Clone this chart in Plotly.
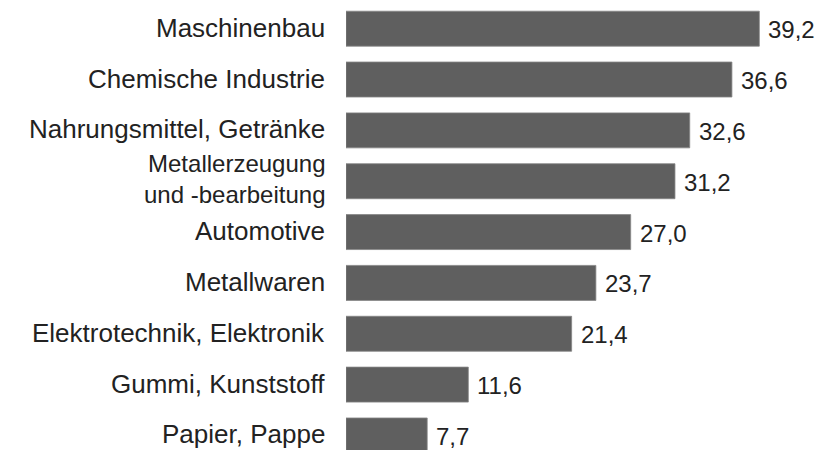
import plotly.graph_objects as go

# Branches and their values, top to bottom
branches = [
    "Maschinenbau",
    "Chemische Industrie",
    "Nahrungsmittel, Getränke",
    "Metallerzeugung<br>und -bearbeitung",
    "Automotive",
    "Metallwaren",
    "Elektrotechnik, Elektronik",
    "Gummi, Kunststoff",
    "Papier, Pappe",
]
values = [39.2, 36.6, 32.6, 31.2, 27.0, 23.7, 21.4, 11.6, 7.7]

BAR_COLOR = "#5f5f5f"
TEXT_COLOR = "#222222"
FONT = "Liberation Sans, Arial, sans-serif"

positions = list(range(len(branches)))

fig = go.Figure(
    go.Bar(
        x=values,
        y=positions,
        orientation="h",
        marker=dict(color=BAR_COLOR, line=dict(color="#858585", width=0.8)),
        hoverinfo="skip",
    )
)

annotations = []
# Category labels to the left of the bars; wrapped labels use a slightly
# smaller size so both lines stay within their row
for pos, name in zip(positions, branches):
    wrapped = "<br>" in name
    annotations.append(dict(
        x=0, y=pos, xref="x", yref="y",
        text=name, showarrow=False,
        xanchor="right", yanchor="middle", align="right",
        xshift=-19, yshift=2 if wrapped else 1,
        font=dict(family=FONT, size=24 if wrapped else 26, color=TEXT_COLOR),
    ))

# Value labels just past the end of each bar
for pos, v in zip(positions, values):
    annotations.append(dict(
        x=v, y=pos, xref="x", yref="y",
        text=f"{v:.1f}".replace(".", ","), showarrow=False,
        xanchor="left", yanchor="middle",
        xshift=7, yshift=-1,
        font=dict(family=FONT, size=24, color=TEXT_COLOR),
    ))

fig.update_layout(
    width=817,
    height=450,
    margin=dict(l=346, r=0, t=0, b=0),
    paper_bgcolor="white",
    plot_bgcolor="white",
    bargap=0.312,
    showlegend=False,
    annotations=annotations,
    xaxis=dict(range=[0, 44.67], visible=False, fixedrange=True),
    yaxis=dict(range=[8.286, -0.564], visible=False, fixedrange=True),
)

fig.write_html("out.html", config={"displayModeBar": False})
